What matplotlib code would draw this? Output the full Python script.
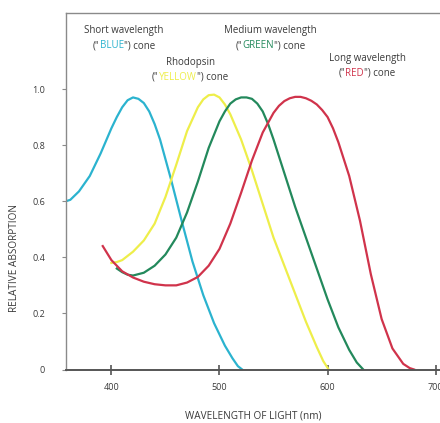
import numpy as np
import matplotlib
matplotlib.use("Agg")
from matplotlib import pyplot as plt
from matplotlib.offsetbox import TextArea, HPacker, AnnotationBbox

# values
blue_wl = [358, 362, 370, 380, 390, 400, 405, 410, 415, 420, 425, 430, 435,
           440, 445, 455, 465, 475, 485, 495, 505, 512, 517, 521]
blue_val = [0.60, 0.605, 0.635, 0.69, 0.77, 0.86, 0.90, 0.935, 0.96, 0.97,
            0.965, 0.95, 0.92, 0.875, 0.82, 0.68, 0.53, 0.385, 0.265, 0.165,
            0.085, 0.04, 0.012, 0.0]

yellow_wl = [400, 405, 410, 420, 430, 440, 450, 460, 470, 480, 485, 490, 495,
             500, 505, 510, 520, 530, 540, 550, 560, 570, 580, 590, 596, 601]
yellow_val = [0.38, 0.383, 0.39, 0.42, 0.46, 0.52, 0.615, 0.73, 0.85, 0.935,
              0.963, 0.978, 0.98, 0.97, 0.945, 0.91, 0.82, 0.71, 0.59, 0.47,
              0.37, 0.27, 0.17, 0.08, 0.03, 0.0]

green_wl = [405, 410, 415, 420, 430, 440, 450, 460, 470, 480, 490, 500, 505,
            510, 515, 520, 525, 530, 535, 540, 545, 550, 560, 570, 580, 590,
            600, 610, 620, 627, 633]
green_val = [0.36, 0.347, 0.338, 0.335, 0.345, 0.37, 0.41, 0.47, 0.56, 0.67,
             0.79, 0.885, 0.92, 0.948, 0.963, 0.97, 0.97, 0.965, 0.948, 0.92,
             0.875, 0.82, 0.70, 0.58, 0.47, 0.36, 0.25, 0.15, 0.07, 0.025, 0.0]

red_wl = [392, 400, 410, 420, 430, 440, 450, 460, 470, 480, 490, 500, 510, 520,
          530, 540, 550, 555, 560, 565, 570, 575, 580, 585, 590, 595, 600, 605,
          610, 620, 630, 640, 650, 660, 670, 676, 680]
red_val = [0.44, 0.39, 0.35, 0.328, 0.313, 0.304, 0.30, 0.30, 0.31, 0.33, 0.37,
           0.43, 0.52, 0.63, 0.745, 0.845, 0.915, 0.94, 0.957, 0.967, 0.972,
           0.972, 0.967, 0.958, 0.945, 0.925, 0.90, 0.86, 0.81, 0.69, 0.53,
           0.34, 0.18, 0.075, 0.02, 0.005, 0.0]

x_ticks = [400, 500, 600, 700]
y_ticks = [0, 0.2, 0.4, 0.6, 0.8, 1.0]
y_tick_labels = ["0", "0.2", "0.4", "0.6", "0.8", "1.0"]

c_blue = "#2bb3cf"
c_yellow = "#eeee4a"
c_green = "#23895c"
c_red = "#d0334b"
c_text = "#3a3a3a"

plt.rcParams['font.family'] = ['Open Sans', 'DejaVu Sans']

fig = plt.figure(figsize=(4.4, 4.23), dpi=100)
ax = fig.add_axes([66 / 440, 53.5 / 423, 374 / 440, 356.5 / 423])

ax.plot(blue_wl, blue_val, color=c_blue, lw=1.6)
ax.plot(yellow_wl, yellow_val, color=c_yellow, lw=1.6)
ax.plot(green_wl, green_val, color=c_green, lw=1.6)
ax.plot(red_wl, red_val, color=c_red, lw=1.6)

ax.set_xlim(358, 704)
ax.set_ylim(0, 1.271)

for s in ['top', 'left']:
    ax.spines[s].set_color('#8a8a8a')
    ax.spines[s].set_linewidth(1.0)
ax.spines['right'].set_visible(False)
ax.spines['bottom'].set_color('#555555')
ax.spines['bottom'].set_linewidth(1.4)

ax.set_xticks(x_ticks)
ax.set_xticklabels([str(t) for t in x_ticks])
ax.set_yticks(y_ticks)
ax.set_yticklabels(y_tick_labels)
ax.tick_params(axis='x', direction='inout', length=7, width=1.2,
               colors='#555555', labelcolor=c_text, labelsize=6.5, pad=6)
ax.tick_params(axis='y', direction='out', length=3, width=0.8,
               colors='#8a8a8a', labelcolor=c_text, labelsize=6.5, pad=12)

fig.text(253 / 440, 1 - 416 / 423, "WAVELENGTH OF LIGHT (nm)", ha='center',
         va='center', fontsize=7.2, color=c_text)
fig.text(15 / 440, 1 - 258 / 423, "RELATIVE ABSORPTION", ha='center',
         va='center', rotation=90, fontsize=7.2, color=c_text)


def label(x, y, top, word, color):
    fig.text(x / 440, 1 - y / 423, top, ha='center', va='center',
             fontsize=7, color=c_text)
    parts = [TextArea('("', textprops=dict(fontsize=7, color=c_text)),
             TextArea(word, textprops=dict(fontsize=7, color=color)),
             TextArea('") cone', textprops=dict(fontsize=7, color=c_text))]
    box = HPacker(children=parts, align='baseline', pad=0, sep=0)
    ab = AnnotationBbox(box, (x / 440, 1 - (y + 15) / 423),
                        xycoords='figure fraction', frameon=False,
                        box_alignment=(0.5, 0.5), pad=0)
    fig.add_artist(ab)


label(124, 31, "Short wavelength", "BLUE", c_blue)
label(190, 62, "Rhodopsin", "YELLOW", c_yellow)
label(270, 31, "Medium wavelength", "GREEN", c_green)
label(367, 58, "Long wavelength", "RED", c_red)

fig.savefig("out.png", dpi=100)
